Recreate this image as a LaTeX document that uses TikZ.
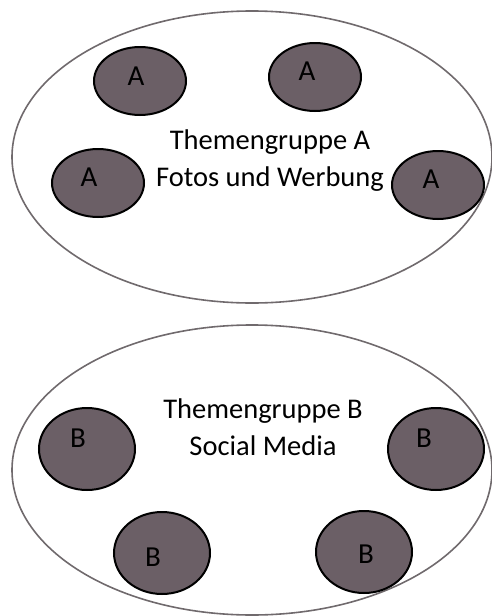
\documentclass[tikz,border=0pt]{standalone}
\usepackage{fontspec}
\setmainfont{Carlito}
\usetikzlibrary{shapes.geometric}
\definecolor{themafill}{HTML}{6B5F66}
\definecolor{gruppenrand}{HTML}{706A6D}

\begin{document}
\begin{tikzpicture}[x=1pt, y=-1pt,
    gruppe/.style = {draw=gruppenrand, line width=1.6pt, ellipse, minimum width=480pt, minimum height=292pt, inner sep=0pt},
    thema/.style = {draw, line width=2pt, ellipse, fill=themafill, inner sep=0pt},
    buchstabe/.style = {font=\fontsize{29}{29}\selectfont, inner sep=0pt},
    titel/.style = {align=center, font=\fontsize{28.5}{37}\selectfont}]
        \useasboundingbox (0,0) rectangle (492,616);
        % Themengruppe A
        \node[gruppe] (ga) at (252,157) {};
        \node[titel] (ta) at (270,161) {Themengruppe A\\Fotos und Werbung};
        \node[thema, minimum width=92pt, minimum height=68pt, label={[buchstabe, xshift=-4pt, yshift=5pt]center:A}] (a1) at (140,81) {};
        \node[thema, minimum width=92pt, minimum height=68pt, label={[buchstabe, xshift=-8pt, yshift=6pt]center:A}] (a2) at (315,77) {};
        \node[thema, minimum width=92pt, minimum height=68pt, label={[buchstabe, xshift=-9pt, yshift=6pt]center:A}] (a3) at (98,183) {};
        \node[thema, minimum width=92pt, minimum height=68pt, label={[buchstabe, xshift=-7pt, yshift=6pt]center:A}] (a4) at (438,185) {};
        % Themengruppe B
        \node[gruppe, minimum height=290pt] (gb) at (252,470) {};
        \node[titel] (tb) at (263,427) {Themengruppe B\\Social Media};
        \node[thema, minimum width=96pt, minimum height=82pt, label={[buchstabe, xshift=-9pt, yshift=11pt]center:B}] (b1) at (87,449) {};
        \node[thema, minimum width=96pt, minimum height=82pt, label={[buchstabe, xshift=-12pt, yshift=11pt]center:B}] (b2) at (436,449) {};
        \node[thema, minimum width=96pt, minimum height=82pt, label={[buchstabe, xshift=-9pt, yshift=-4pt]center:B}] (b3) at (162,553) {};
        \node[thema, minimum width=96pt, minimum height=82pt, label={[buchstabe, xshift=2pt, yshift=-2pt]center:B}] (b4) at (364,552) {};
    \end{tikzpicture}
\end{document}
